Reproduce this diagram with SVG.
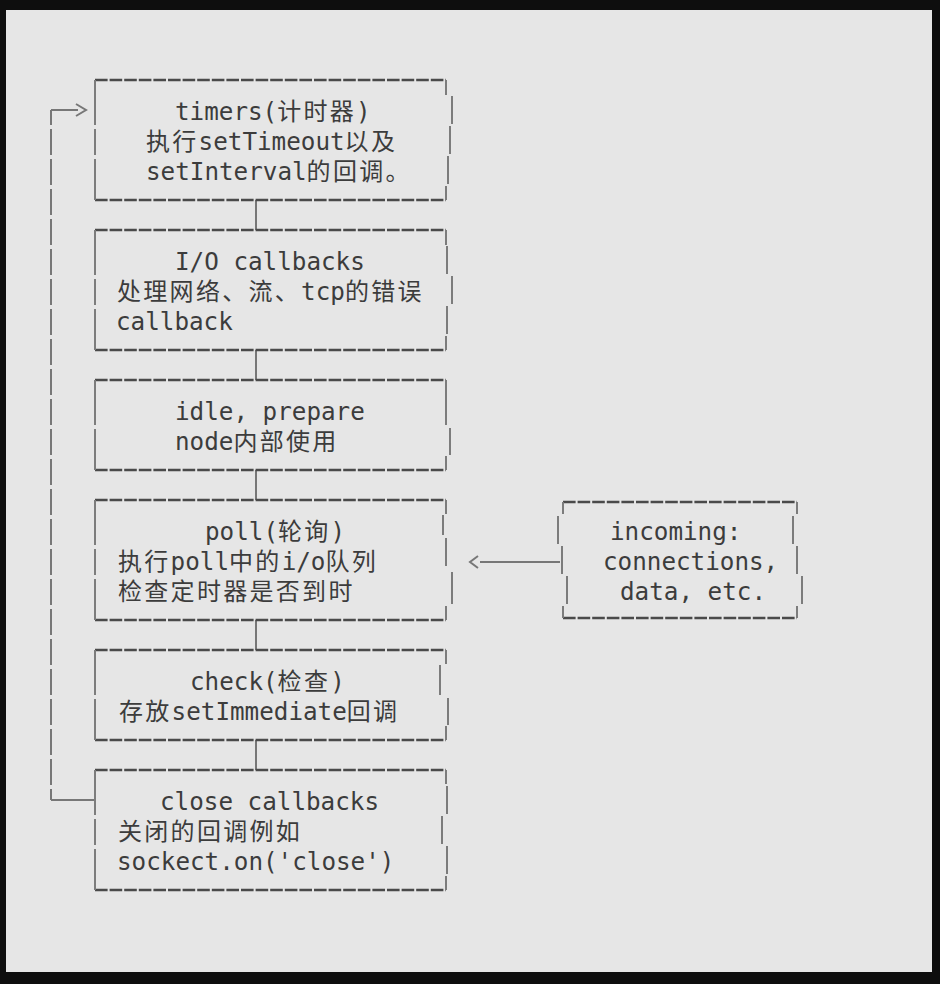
<svg xmlns="http://www.w3.org/2000/svg" width="940" height="984" viewBox="0 0 940 984">
<style>
.h{stroke:#4a4a4a;stroke-width:2.5;stroke-dasharray:12.6 2;fill:none}
.v{stroke:#7c7c7c;stroke-width:2;fill:none}
.k{stroke:#777;stroke-width:2;fill:none}
.t{font-family:"DejaVu Sans Mono","Liberation Mono",monospace;font-size:24.25px;fill:#3c3c3c}
.c{font-family:"Noto Sans CJK SC","Noto Sans CJK JP",sans-serif;font-size:24px;letter-spacing:2.3px}
</style>
<rect x="0" y="0" width="940" height="984" fill="#0e0e0e"/>
<rect x="6" y="10" width="926" height="962" fill="#e6e6e6"/>

<g id="connectors">
  <path class="k" d="M256 200V230M256 350V380M256 470V500M256 620V650M256 740V770"/>
  <path class="k" d="M51 110H78M76 104L86 110L76 116"/>
  <path class="k" d="M51 110V800" stroke-dasharray="26 4" stroke-dashoffset="11"/>
  <path class="k" d="M51 800H95"/>
  <path class="k" d="M480 562H560M478 556L470 562L478 568"/>
</g>

<g id="timers">
  <path class="h" d="M95 80H446M95 200H446"/>
  <path class="v" d="M95 80V125M95 129V155M95 159V200M446 80V95M452 96V124M450 126V154M448 156V184M446 186V200"/>
  <text class="t" x="175" y="120">timers(<tspan class="c">计时器</tspan>)</text>
  <text class="t" x="146" y="150"><tspan class="c">执行</tspan>setTimeout<tspan class="c">以及</tspan></text>
  <text class="t" x="146" y="180">setInterval<tspan class="c">的回调。</tspan></text>
</g>

<g id="io-callbacks">
  <path class="h" d="M95 230H446M95 350H446"/>
  <path class="v" d="M95 230V275M95 279V305M95 309V350M446 230V245M447 246V274M452 276V304M447 306V334M446 336V350"/>
  <text class="t" y="270" x="175">I/O callbacks</text>
  <text class="t" x="117" y="300"><tspan class="c">处理网络、流、</tspan>tcp<tspan class="c">的错误</tspan></text>
  <text class="t" y="330" x="116">callback</text>
</g>

<g id="idle-prepare">
  <path class="h" d="M95 380H446M95 470H446"/>
  <path class="v" d="M95 380V425M95 429V470M446 380V425M450 428V455M446 456V470"/>
  <text class="t" y="420" x="175">idle, prepare</text>
  <text class="t" x="175" y="450">node<tspan class="c">内部使用</tspan></text>
</g>

<g id="poll">
  <path class="h" d="M95 500H446M95 620H446"/>
  <path class="v" d="M95 500V545M95 549V575M95 579V620M446 500V514M443 515V535M446 538V566M452 572V604M446 606V620"/>
  <text class="t" x="205" y="540">poll(<tspan class="c">轮询</tspan>)</text>
  <text class="t" x="118" y="570"><tspan class="c">执行</tspan>poll<tspan class="c">中的</tspan>i/o<tspan class="c">队列</tspan></text>
  <text class="t" x="118" y="600"><tspan class="c">检查定时器是否到时</tspan></text>
</g>

<g id="incoming">
  <path class="h" d="M563 502H797M563 618H797"/>
  <path class="v" d="M563 502V514M558 516V544M562 546V574M567 576V604M563 606V618M797 502V514M793 516V544M797 546V574M802 576V604M797 606V618"/>
  <text class="t" y="540" x="610">incoming:</text>
  <text class="t" y="570" x="603">connections,</text>
  <text class="t" y="600" x="620">data, etc.</text>
</g>

<g id="check">
  <path class="h" d="M95 650H446M95 740H446"/>
  <path class="v" d="M95 650V695M95 699V740M446 650V664M440 665V695M448 698V725M446 726V740"/>
  <text class="t" x="190" y="690">check(<tspan class="c">检查</tspan>)</text>
  <text class="t" x="119" y="720"><tspan class="c">存放</tspan>setImmediate<tspan class="c">回调</tspan></text>
</g>

<g id="close-callbacks">
  <path class="h" d="M95 770H446M95 890H446"/>
  <path class="v" d="M95 770V815M95 819V845M95 849V890M446 770V784M447 786V814M442 816V844M447 846V874M446 876V890"/>
  <text class="t" y="810" x="160">close callbacks</text>
  <text class="t" x="118" y="840"><tspan class="c">关闭的回调例如</tspan></text>
  <text class="t" y="870" x="117">sockect.on('close')</text>
</g>
</svg>
